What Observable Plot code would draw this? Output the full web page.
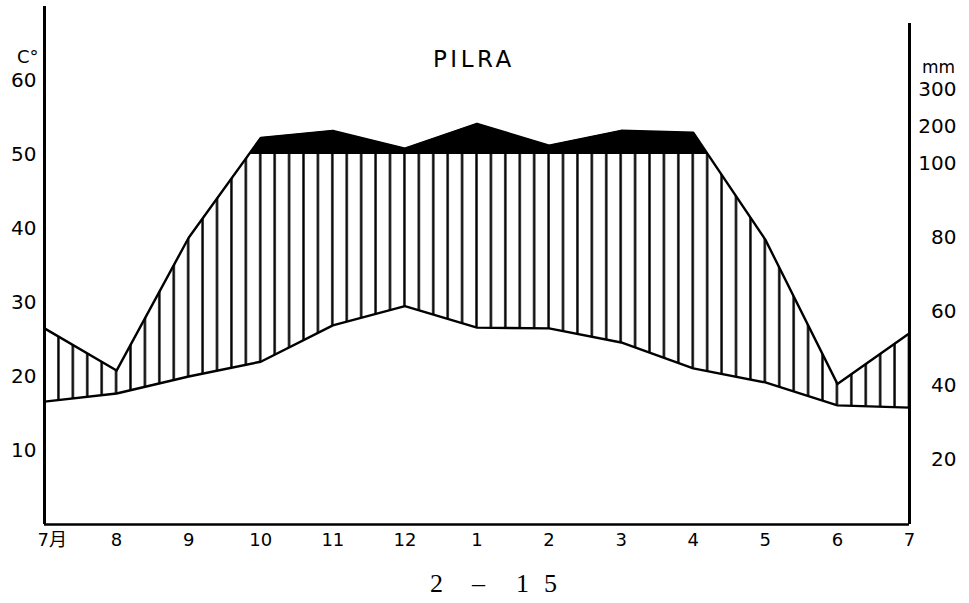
<!DOCTYPE html>
<html>
<head>
<meta charset="utf-8">
<script src="https://cdn.jsdelivr.net/npm/d3@7"></script>
<script src="https://cdn.jsdelivr.net/npm/@observablehq/plot@0.6"></script>
<style>
  body { margin: 0; background: #fff; }
  #wrap { position: relative; width: 969px; height: 603px; font-family: "DejaVu Sans", "Noto Sans CJK SC", sans-serif; color: #000; }
  #wrap svg { position: absolute; left: 0; top: 0; display: block; }
  .ov { position: absolute; white-space: pre; line-height: 1; }
  #title { left: 433px; top: 48px; font-size: 23px; letter-spacing: 3.5px; }
  #tunit { left: 17px; top: 48px; font-size: 18px; }
  #punit { left: 922px; top: 59px; font-size: 17px; }
  .cap { position: absolute; top: 571px; font-family: "Liberation Serif", serif; font-size: 26px; line-height: 26px; }
</style>
</head>
<body>
<div id="wrap">
  <div class="ov" id="title">PILRA</div>
  <div class="ov" id="tunit">C°</div>
  <div class="ov" id="punit">mm</div>
  <span class="cap" style="left:430px">2</span>
  <span class="cap" style="left:472px">–</span>
  <span class="cap" style="left:516px">1</span>
  <span class="cap" style="left:544px">5</span>
</div>
<script>
// ---- data ----
const months = ["7月", "8", "9", "10", "11", "12", "1", "2", "3", "4", "5", "6", "7"];
const temperature = [16.6, 17.7, 20.0, 22.0, 26.9, 29.5, 26.6, 26.5, 24.6, 21.1, 19.2, 16.1, 15.8]; // °C
const precipitation = [53, 41.6, 77.5, 145, 164, 116, 183, 124, 164, 159, 77, 38, 51.7]; // mm
const tempTicks = [10, 20, 30, 40, 50, 60];
const precipTicks = [20, 40, 60, 80, 100, 200, 300];
const tempAxisTop = 70;
const precipAxisTop = 67.7;

// Walter–Lieth scaling: 10 °C = 20 mm; above 100 mm compressed 1:10
const precipToScale = p => p <= 100 ? p / 2 : 50 + (p - 100) / 20;
const scaleToPrecip = v => v <= 50 ? v * 2 : 100 + (v - 50) * 20;

const data = months.map((m, i) => ({i, month: m, t: temperature[i], p: precipToScale(precipitation[i])}));
const wet = precipToScale(100);

const plot = Plot.plot({
  width: 969, height: 560,
  marginLeft: 44, marginRight: 60, marginTop: 6, marginBottom: 36,
  x: {type: "linear", domain: [0, months.length - 1], axis: null},
  y: {domain: [0, tempAxisTop], axis: null},
  style: {fontFamily: "DejaVu Sans, Noto Sans CJK SC, sans-serif", color: "#000", background: "transparent"},
  marks: [
    Plot.areaY(data, {x: "i", y1: "t", y2: "p", fill: "url(#hatch)"}),
    Plot.areaY(data, {x: "i", y1: () => wet, y2: "p", fill: "#000"}),
    Plot.line(data, {x: "i", y: "t", stroke: "#000", strokeWidth: 2.4}),
    Plot.line(data, {x: "i", y: "p", stroke: "#000", strokeWidth: 2.4}),
    Plot.ruleX([0], {y1: 0, y2: tempAxisTop, stroke: "#000", strokeWidth: 3}),
    Plot.ruleX([months.length - 1], {y1: 0, y2: precipAxisTop, stroke: "#000", strokeWidth: 3}),
    Plot.ruleY([0], {x1: 0, x2: months.length - 1, stroke: "#000", strokeWidth: 2.6}),
    Plot.axisY(tempTicks, {anchor: "left", tickSize: 0, tickPadding: 8, fontSize: 20, label: null}),
    Plot.axisY(precipTicks.map(precipToScale), {anchor: "right", tickSize: 0, tickPadding: 47, textAnchor: "end", dy: 9, fontSize: 20, label: null,
      tickFormat: v => String(Math.round(scaleToPrecip(v)))}),
    Plot.axisX(d3.range(1, months.length), {anchor: "bottom", tickSize: 0, tickPadding: 9, fontSize: 18, label: null, tickFormat: i => months[i]}),
    Plot.axisX([0], {anchor: "bottom", tickSize: 0, tickPadding: 9, fontSize: 18, label: null, textAnchor: "start", dx: -7, tickFormat: i => months[i]})
  ]
});

// hatch pattern + clipping at the 100 mm line
const svg = d3.select(plot);
const xs = plot.scale("x"), ys = plot.scale("y");
const step = (xs.apply(1) - xs.apply(0)) / 5;
const yWet = ys.apply(wet);
const defs = svg.insert("defs", ":first-child");
const pat = defs.append("pattern").attr("id", "hatch").attr("patternUnits", "userSpaceOnUse")
  .attr("x", xs.apply(0) - step / 2).attr("y", 0).attr("width", step).attr("height", 20);
pat.append("line").attr("x1", step / 2).attr("x2", step / 2).attr("y1", 0).attr("y2", 20)
  .attr("stroke", "#000").attr("stroke-width", 2.4);
defs.append("clipPath").attr("id", "belowWet").append("rect")
  .attr("x", 0).attr("y", yWet).attr("width", 969).attr("height", 600);
defs.append("clipPath").attr("id", "aboveWet").append("rect")
  .attr("x", 0).attr("y", 0).attr("width", 969).attr("height", yWet);
const areas = plot.querySelectorAll('g[aria-label="area"]');
areas[0].setAttribute("clip-path", "url(#belowWet)");
areas[1].setAttribute("clip-path", "url(#aboveWet)");

document.getElementById("wrap").prepend(plot);
</script>
</body>
</html>
